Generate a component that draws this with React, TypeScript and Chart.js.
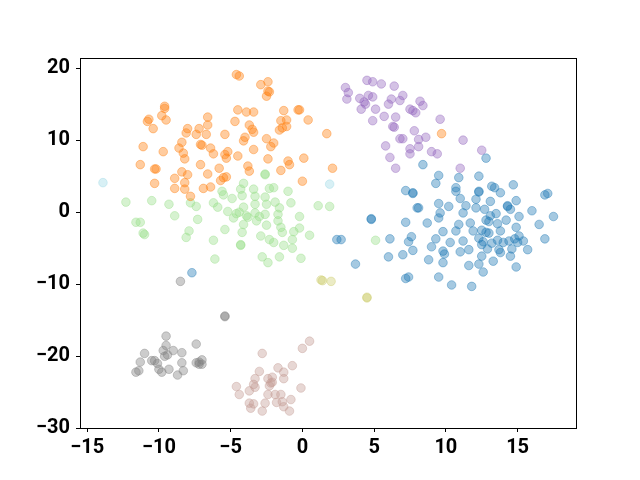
import React, { useEffect, useRef } from "react";
import { Chart, registerables } from "chart.js";

Chart.register(...registerables);

type P = [number, number];

const xTicks = [-15, -10, -5, 0, 5, 10, 15];
const yTicks = [-30, -20, -10, 0, 10, 20];
const xRange: P = [-15.5, 19.07];
const yRange: P = [-29.95, 21.4];

const blueClass: P[] = [
  [8.4, 6.6], [9.5, 5.1], [9.3, 4.0], [10.9, 4.8], [12.3, 5.0], [12.8, 7.5], [7.2, 3.0], [7.7, 2.7], [7.7, 2.6],
  [8.0, 0.6], [8.1, 0.6], [9.5, 1.2], [10.2, 0.8], [10.7, 2.9], [10.7, 3.4], [11.0, 1.9], [12.3, 2.9], [12.3, 2.8],
  [12.1, 1.8], [11.4, 0.9], [11.2, -0.1], [12.1, 0.6], [12.7, 0.4], [13.1, 1.5], [13.2, 3.6], [13.4, 3.4], [13.8, 2.7],
  [14.7, 3.8], [14.9, 1.6], [14.3, 0.9], [14.5, 0.4], [15.1, -0.6], [16.0, 0.2], [16.9, 2.4], [17.1, 2.6], [17.5, -0.6],
  [16.5, -1.7], [16.9, -3.7], [9.6, -0.1], [9.5, -0.8], [8.7, -1.5], [9.8, -2.7], [9.3, -3.7], [9.0, -4.8], [9.8, -5.4],
  [9.9, -5.8], [9.8, -7.0], [8.8, -6.6], [9.5, -9.0], [10.4, -10.1], [11.8, -10.3], [11.6, -7.4], [12.3, -7.2],
  [12.6, -8.3], [13.3, -6.8], [12.5, -6.1], [12.9, -5.1], [13.7, -5.2], [14.6, -5.1], [14.9, -7.6], [15.7, -5.2],
  [15.4, -4.0], [15.1, -3.3], [14.9, -2.1], [14.2, -1.1], [14.4, -4.0], [14.0, -4.2], [13.6, -3.9], [13.2, -4.3],
  [12.6, -4.1], [12.5, -4.5], [12.3, -3.6], [11.6, -5.2], [11.0, -5.5], [11.2, -4.0], [10.3, -4.2], [10.7, -2.6],
  [10.9, -1.7], [11.7, -1.5], [11.9, -2.6], [12.5, -2.5], [12.8, -1.1], [13.1, -0.5], [13.0, -1.3], [13.6, -1.6],
  [13.8, -2.6], [12.8, -2.8], [13.0, -2.9], [13.5, -0.2], [14.3, 0.8], [14.8, -3.7], [15.0, -4.2], [13.8, -5.6],
  [14.5, -6.1], [7.2, -1.4], [6.1, -3.7], [6.0, -6.2], [7.0, -5.9], [7.7, -5.3], [7.4, -4.1], [7.6, -3.4], [7.2, -9.2],
  [7.4, -9.0], [3.7, -7.2], [2.4, -3.8], [2.7, -3.8], [4.8, -0.9], [4.8, -1.0], [-7.7, -8.4],
];

const orangeClass: P[] = [
  [-4.6, 19.1], [-4.4, 18.9], [-2.9, 17.7], [-2.4, 18.1], [-2.4, 16.8], [-2.5, 16.1], [-2.3, 16.7], [-4.5, 14.2],
  [-3.9, 13.9], [-3.4, 13.9], [-4.7, 12.6], [-3.7, 12.1], [-3.5, 11.5], [-3.4, 11.1], [-5.4, 10.8], [-4.0, 10.4],
  [-4.1, 9.9], [-2.5, 10.2], [-2.0, 9.6], [-2.2, 9.1], [-3.4, 8.7], [-5.2, 8.4], [-5.4, 8.0], [-5.3, 7.5], [-4.5, 7.8],
  [-2.4, 7.4], [-3.8, 6.4], [-3.7, 5.7], [-5.8, 6.1], [-5.5, 4.8], [-5.3, 4.9], [-5.7, 4.4], [-6.6, 13.2], [-6.6, 12.1],
  [-7.2, 11.6], [-7.4, 10.8], [-6.7, 10.8], [-7.1, 9.4], [-7.0, 9.3], [-6.4, 8.9], [-6.2, 8.1], [-7.1, 6.6],
  [-6.6, 5.3], [-6.4, 3.5], [-6.9, 3.3], [-1.3, 14.1], [-0.3, 14.2], [-0.2, 14.2], [0.4, 12.8], [-1.1, 12.8],
  [-1.5, 12.7], [-1.4, 11.7], [-1.1, 11.9], [-1.6, 11.4], [0.1, 7.5], [-1.0, 7.1], [-0.9, 6.6], [-1.5, 5.8], [0.0, 4.3],
  [1.7, 10.9], [2.1, 6.1], [9.7, 10.9], [-9.6, 14.7], [-9.6, 14.4], [-9.8, 13.4], [-9.5, 12.8], [-10.8, 12.6],
  [-10.7, 12.9], [-10.4, 11.6], [-11.1, 9.1], [-9.7, 8.4], [-11.3, 6.6], [-10.3, 6.0], [-10.2, 6.0], [-10.3, 4.0],
  [-8.4, 9.7], [-8.6, 8.9], [-8.3, 8.2], [-8.2, 7.4], [-8.0, 11.6], [-8.1, 11.0], [-8.4, 5.6], [-8.9, 4.7], [-8.0, 5.2],
  [-8.2, 4.1], [-8.9, 3.3], [-8.2, 3.2], [-7.8, 2.2],
];

const greenClass: P[] = [
  [-12.3, 1.4], [-10.5, 1.6], [-9.3, 1.1], [-8.9, -0.5], [-7.8, 1.3], [-7.4, 0.8], [-7.3, -1.0], [-7.9, -2.6],
  [-8.1, -3.5], [-11.6, -1.4], [-11.3, -1.4], [-11.1, -2.9], [-11.0, -3.1], [-6.2, 1.3], [-5.9, 0.7], [-5.6, 2.9],
  [-5.5, 2.4], [-4.9, 1.9], [-5.2, 0.1], [-4.8, -0.8], [-5.4, -2.4], [-6.2, -3.9], [-6.1, -6.5], [-4.1, 4.0],
  [-4.3, 3.2], [-4.2, 2.3], [-4.6, -0.2], [-4.4, 0.0], [-4.1, 0.7], [-3.9, -0.5], [-4.1, -1.7], [-4.2, -2.8],
  [-4.3, -4.5], [-4.3, -4.6], [-3.8, -0.7], [-3.4, 3.2], [-3.3, 2.2], [-3.3, 1.1], [-3.3, -0.1], [-3.2, -1.2],
  [-3.0, -0.6], [-2.6, 5.2], [-2.6, 5.3], [-2.6, 2.1], [-2.5, 1.1], [-2.6, -0.3], [-2.5, -1.8], [-2.9, -3.3],
  [-2.8, -6.2], [-2.4, -7.0], [-2.3, 3.3], [-2.0, 3.4], [-1.9, 1.4], [-1.7, -0.3], [-1.7, -1.2], [-1.6, 0.6],
  [-1.5, -2.1], [-1.4, -2.8], [-2.3, -3.8], [-2.0, -4.2], [-1.3, -4.6], [-1.6, -6.2], [-1.0, 2.9], [-0.8, 1.3],
  [-0.2, -0.6], [-0.2, -2.2], [-0.6, -2.7], [-0.7, -3.8], [-0.7, -5.0], [0.5, -3.2], [-0.1, -6.4], [1.1, 0.9],
  [1.9, 0.8], [5.1, -3.9],
];

const purpleClass: P[] = [
  [3.0, 17.3], [3.2, 16.6], [3.1, 15.7], [4.5, 18.3], [4.9, 18.1], [5.5, 17.8], [6.4, 17.5], [4.0, 15.8], [4.3, 15.3],
  [4.4, 15.0], [4.6, 16.2], [4.9, 16.0], [4.1, 14.3], [5.1, 14.3], [4.9, 12.7], [6.0, 15.0], [6.2, 15.7], [6.8, 15.5],
  [5.7, 13.3], [6.5, 13.2], [6.3, 11.9], [6.4, 11.8], [7.0, 16.2], [7.5, 14.3], [7.7, 14.1], [7.9, 13.8], [8.2, 15.4],
  [8.4, 14.8], [9.6, 12.9], [5.8, 9.2], [6.1, 7.6], [6.5, 6.1], [6.8, 10.2], [7.0, 10.2], [7.8, 11.3], [8.1, 10.1],
  [8.1, 9.1], [8.6, 10.4], [7.5, 8.8], [7.5, 8.1], [9.0, 8.4], [9.4, 8.1], [11.2, 10.0], [12.5, 8.6], [11.0, 6.1],
];

const brownClass: P[] = [
  [-2.8, -19.6], [0.5, -17.9], [0.0, -18.9], [-0.7, -21.3], [-1.7, -21.6], [-1.3, -22.2], [-1.3, -23.1], [-2.4, -23.1],
  [-2.1, -22.9], [-2.1, -23.6], [-2.2, -23.7], [-3.0, -22.1], [-3.3, -23.1], [-3.4, -23.9], [-3.3, -24.3], [-3.7, -24.8],
  [-4.6, -24.2], [-4.4, -25.3], [-2.4, -25.3], [-2.3, -24.1], [-1.9, -25.3], [-1.5, -25.3], [-0.8, -26.0], [-1.4, -26.3],
  [-1.3, -27.0], [-0.9, -27.6], [-1.8, -26.4], [-2.6, -26.5], [-2.8, -27.6], [-3.4, -26.6], [-3.6, -27.2], [-3.7, -26.5],
  [-0.1, -24.4],
];

const grayClass: P[] = [
  [-8.5, -9.6], [-5.4, -14.5], [-5.4, -14.4], [-9.5, -17.2], [-7.4, -18.3], [-9.5, -18.5], [-11.0, -19.6], [-9.7, -19.2],
  [-9.0, -19.2], [-8.4, -19.5], [-9.6, -20.0], [-9.4, -19.8], [-10.3, -20.6], [-10.5, -20.6], [-11.3, -20.8],
  [-11.4, -22.0], [-11.6, -22.2], [-10.1, -21.0], [-10.0, -21.8], [-9.8, -22.2], [-9.3, -21.8], [-8.7, -22.6],
  [-8.3, -22.0], [-8.4, -20.9], [-7.4, -20.9], [-7.0, -20.5], [-7.2, -20.8], [-7.0, -21.1], [-7.2, -21.1],
];

const oliveClass: P[] = [[1.3, -9.4], [1.4, -9.5], [2.0, -9.6], [4.5, -11.8], [4.5, -11.9]];

const cyanClass: P[] = [[-13.9, 4.1], [1.9, 3.9]];

const classes: { name: string; color: string; pts: P[] }[] = [
  { name: "0", color: "31,119,180", pts: blueClass },
  { name: "1", color: "255,127,14", pts: orangeClass },
  { name: "2", color: "152,223,138", pts: greenClass },
  { name: "3", color: "148,103,189", pts: purpleClass },
  { name: "4", color: "196,156,148", pts: brownClass },
  { name: "5", color: "127,127,127", pts: grayClass },
  { name: "6", color: "205,205,110", pts: oliveClass },
  { name: "7", color: "158,218,229", pts: cyanClass },
];

const fmt = (v: number) => String(v).replace("-", "\u2212");

const framePlugin = {
  id: "frame",
  afterDatasetsDraw(chart: any) {
    const { ctx, chartArea } = chart;
    ctx.save();
    ctx.strokeStyle = "#000";
    ctx.lineWidth = 1;
    ctx.strokeRect(
      Math.round(chartArea.left) + 0.5,
      Math.round(chartArea.top) + 0.5,
      Math.round(chartArea.right - chartArea.left),
      Math.round(chartArea.bottom - chartArea.top)
    );
    ctx.restore();
  },
};

export default function App() {
  const ref = useRef<HTMLCanvasElement | null>(null);
  useEffect(() => {
    if (!ref.current) return;
    const font = { family: "Roboto", size: 20, weight: "bold" as const };
    const chart = new Chart(ref.current, {
      type: "scatter",
      data: {
        datasets: classes.map((c) => ({
          label: c.name,
          data: c.pts.map(([x, y]) => ({ x, y })),
          backgroundColor: `rgba(${c.color},0.4)`,
          borderColor: `rgba(${c.color},0.4)`,
          borderWidth: 1,
          pointRadius: 4.3,
        })),
      },
      options: {
        animation: false,
        responsive: false,
        layout: { padding: { top: 58, right: 64, left: 0, bottom: 0 } },
        plugins: { legend: { display: false }, tooltip: { enabled: false } },
        scales: {
          x: {
            type: "linear",
            min: xRange[0],
            max: xRange[1],
            afterBuildTicks: (s: any) => {
              s.ticks = xTicks.map((v) => ({ value: v }));
            },
            afterFit: (s: any) => {
              s.height = 52;
            },
            grid: { drawOnChartArea: false, drawTicks: true, tickLength: 4, color: "#000", lineWidth: 1 },
            border: { display: false },
            ticks: { color: "#000", font, padding: 4, maxRotation: 0, callback: (v: any) => fmt(v) },
          },
          y: {
            type: "linear",
            min: yRange[0],
            max: yRange[1],
            afterBuildTicks: (s: any) => {
              s.ticks = yTicks.map((v) => ({ value: v }));
            },
            afterFit: (s: any) => {
              s.width = 80;
            },
            grid: { drawOnChartArea: false, drawTicks: true, tickLength: 4, color: "#000", lineWidth: 1 },
            border: { display: false },
            ticks: { color: "#000", font, padding: 6, callback: (v: any) => fmt(v) },
          },
        },
      },
      plugins: [framePlugin],
    });
    return () => chart.destroy();
  }, []);
  return (
    <div style={{ position: "absolute", left: 0, top: 0, width: 640, height: 480, background: "#fff" }}>
      <canvas ref={ref} width={640} height={480} style={{ display: "block" }} />
    </div>
  );
}
